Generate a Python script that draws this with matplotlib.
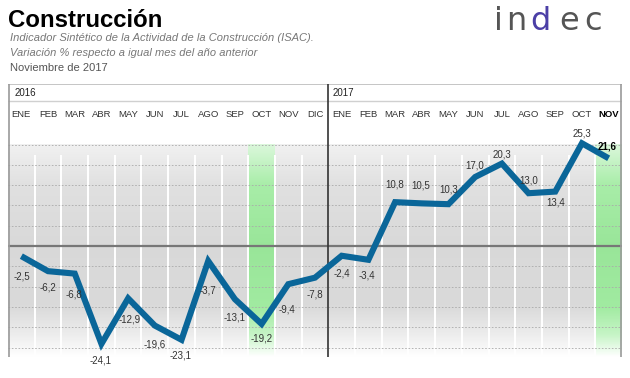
import numpy as np
import matplotlib.pyplot as plt

plt.rcParams['font.family'] = ['Liberation Sans', 'DejaVu Sans']

# ---- data -------------------------------------------------------------
months_2016 = ["ENE", "FEB", "MAR", "ABR", "MAY", "JUN",
               "JUL", "AGO", "SEP", "OCT", "NOV", "DIC"]
months_2017 = ["ENE", "FEB", "MAR", "ABR", "MAY", "JUN",
               "JUL", "AGO", "SEP", "OCT", "NOV"]
values_2016 = [-2.5, -6.2, -6.8, -24.1, -12.9, -19.6,
               -23.1, -3.7, -13.1, -19.2, -9.4, -7.8]
values_2017 = [-2.4, -3.4, 10.8, 10.5, 10.3, 17.0,
               20.3, 13.0, 13.4, 25.3, 21.6]
highlight_months = [("2016", "OCT"), ("2017", "NOV")]

# label offsets in pixels (dx, dy downwards) relative to each point
label_offsets = [(1, 20), (0, 16), (-1, 21), (-1, 17), (1, 21), (0, 19),
                 (-1, 16), (0, 29), (0, 18), (0, 15), (-1, 25), (0, 17),
                 (0, 18), (-2, 16), (0, -18), (-1, -18), (0, -15), (0, -11),
                 (0, -9), (0, -13), (0, 11), (0, -10), (-2, -12)]

W, H = 630, 378
LINE_BLUE = '#0a6699'


def px(x, y):
    return x / W, 1 - y / H


fig = plt.figure(figsize=(W / 100, H / 100), dpi=100)
fig.patch.set_facecolor('white')

# ---- header texts -----------------------------------------------------
fig.text(*px(8, 27), "Construcción", fontsize=17.3, fontweight='bold',
         va='baseline', ha='left', color='black')
fig.text(*px(10, 38), "Indicador Sintético de la Actividad de la Construcción (ISAC).",
         fontsize=8, style='italic', color='#777777', va='center')
fig.text(*px(10, 53), "Variación % respecto a igual mes del año anterior",
         fontsize=8, style='italic', color='#777777', va='center')
fig.text(*px(10, 68), "Noviembre de 2017", fontsize=8, color='#555555',
         va='center')

# logo
for ch, xc, col in [("i", 498, '#555555'), ("n", 516, '#555555'),
                    ("d", 540, '#4b3fa6'), ("e", 569, '#555555'),
                    ("c", 593, '#555555')]:
    fig.text(*px(xc, 30), ch, fontsize=23, color=col, ha='center',
             va='baseline', family='DejaVu Sans')

# ---- chart ------------------------------------------------------------
top_px, bot_px, zero_px, scale = 84, 357, 246, 4.06
y_top = (zero_px - top_px) / scale
y_bot = -(bot_px - zero_px) / scale

ax = fig.add_axes([8 / W, (H - bot_px) / H, 614 / W, (bot_px - top_px) / H])
values = values_2016 + values_2017
x = np.arange(len(values))
n = len(values)
xmin, xmax = -0.5, n - 0.5

# gray gradient background
ys = np.linspace(y_bot, 25, 300)
stops = [y_bot, -22, -15, 0, 15, 25]
gray = np.interp(ys, stops, [1.0, 0.93, 0.855, 0.85, 0.88, 0.945])
img = np.dstack([gray, gray, gray]).reshape(len(ys), 1, 3)
ax.imshow(img, extent=(xmin, xmax, y_bot, 25), origin='lower',
          aspect='auto', interpolation='bilinear', zorder=0)

# green highlighted columns
r = np.interp(ys, stops, [1.0, 0.78, 0.63, 0.6, 0.66, 0.86])
g = np.interp(ys, stops, [1.0, 0.96, 0.92, 0.9, 0.93, 0.97])
green = np.dstack([r, g, r]).reshape(len(ys), 1, 3)
labels_all = [("2016", m) for m in months_2016] + [("2017", m) for m in months_2017]
for yr, m in highlight_months:
    i = labels_all.index((yr, m))
    ax.imshow(green, extent=(i - 0.5, i + 0.5, y_bot, 25), origin='lower',
              aspect='auto', interpolation='bilinear', zorder=1)

# white column separators
sep_x = [k + 0.5 for k in range(n - 1) if k != len(months_2016) - 1]
ax.vlines(sep_x, y_bot, 22.3, color='white', lw=1.4, zorder=2)

# dashed gridlines
for gy in range(-25, 30, 5):
    if gy == 0:
        continue
    ax.hlines(gy, xmin, xmax, color='#aaaaaa', lw=0.6,
              linestyles=(0, (2, 2)), zorder=3)
ax.hlines(0, xmin, xmax, color='#777777', lw=1.6, zorder=4)

# frame
ax.hlines(y_top - 0.1, xmin, xmax, color='#bbbbbb', lw=1.2, zorder=4)
ax.hlines(35.7, xmin, xmax, color='#d0d0d0', lw=1.0, zorder=4)
ax.vlines([xmin + 0.02, xmax - 0.02], y_bot, y_top, color='#9a9a9a', lw=1.2, zorder=4)
ax.vlines(len(months_2016) - 0.5, y_bot, y_top, color='#333333', lw=1.2, zorder=4)

# year and month labels
ax.text(-0.27, 37.7, "2016", fontsize=7, color='#222222', va='center', ha='left')
ax.text(11.67, 37.7, "2017", fontsize=7, color='#222222', va='center', ha='left')
for i, (yr, m) in enumerate(labels_all):
    bold = (yr, m) == highlight_months[-1]
    ax.text(i, 32.4, m, fontsize=6.8, ha='center', va='center',
            color='black' if bold else '#333333',
            fontweight='bold' if bold else 'normal')

# data line
ax.plot(x, values, color=LINE_BLUE, lw=4.4, solid_joinstyle='miter',
        solid_capstyle='butt', zorder=6)

for i, (v, (dx, dy)) in enumerate(zip(values, label_offsets)):
    last = i == n - 1
    ax.annotate(f"{v:.1f}".replace('.', ','), xy=(i, v),
                xytext=(dx * 0.72, -dy * 0.72), textcoords='offset points',
                ha='center', va='center', fontsize=7,
                color='black' if last else '#333333',
                fontweight='bold' if last else 'normal', zorder=7)

ax.set_xlim(xmin, xmax)
ax.set_ylim(y_bot, y_top)
ax.axis('off')

fig.savefig("out.png", dpi=100)
